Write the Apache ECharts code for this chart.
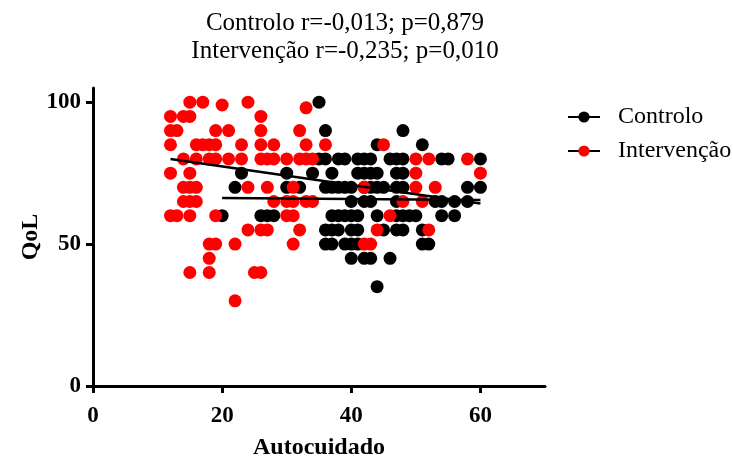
<!DOCTYPE html>
<html>
<head>
<meta charset="utf-8">
<script src="https://cdn.jsdelivr.net/npm/echarts@6/dist/echarts.min.js"></script>
<style>
    html, body { margin: 0; padding: 0; background: #fff; }
    #chart { width: 733px; height: 458px; }
</style>
</head>
<body>
<div id="chart"></div>
<script>
// QoL levels and the Autocuidado scores read at each level
var qolLevels = [100, 99, 98, 95, 90, 85, 80, 75, 70, 65, 60, 55, 50, 45, 40, 35, 30];

var controloAuto = [
    [35], [], [], [], [36, 48], [44, 51],
    [35, 36, 38, 39, 41, 42, 43, 46, 47, 48, 54, 55, 60],
    [23, 30, 34, 37, 41, 42, 43, 44, 47, 48],
    [22, 30, 32, 36, 37, 38, 39, 40, 42, 43, 44, 45, 47, 48, 58, 60],
    [40, 42, 43, 47, 53, 54, 56, 58],
    [20, 26, 27, 28, 37, 38, 39, 40, 41, 44, 47, 48, 49, 50, 54, 56],
    [36, 37, 38, 40, 41, 45, 47, 48, 51],
    [36, 37, 39, 40, 41, 51, 52],
    [40, 42, 43, 46], [], [44], []
];

var intervencaoAuto = [
    [15, 17, 24], [20], [33], [12, 14, 15, 26],
    [12, 13, 19, 21, 26, 32],
    [12, 16, 17, 18, 19, 23, 26, 28, 33, 36, 45],
    [14, 16, 18, 19, 21, 23, 26, 27, 28, 30, 32, 33, 34, 50, 52, 58],
    [12, 15, 50, 60],
    [14, 15, 16, 24, 27, 31, 42, 50, 53],
    [14, 15, 16, 28, 30, 31, 33, 34, 48, 51],
    [12, 13, 15, 19, 30, 31, 46],
    [24, 26, 27, 32, 44, 52],
    [18, 19, 22, 31, 42, 43],
    [18], [15, 18, 25, 26], [], [22]
];

// regression lines (end points)
var controloFitX = [20, 60];
var controloFitY = [66.2, 65.5];
var intervencaoFitX = [12, 60];
var intervencaoFitY = [80, 64.3];

var xTicks = [0, 20, 40, 60];
var yTicks = [0, 50, 100];

var $font = 'Liberation Serif';

function toPoints(autoByLevel) {
    var pts = [];
    autoByLevel.forEach(function (row, i) {
        row.forEach(function (x) { pts.push([x, qolLevels[i]]); });
    });
    return pts;
}
function zipXY(xs, ys) {
    return xs.map(function (x, i) { return [x, ys[i]]; });
}

var chartOption = {
    animation: false,
    textStyle: { fontFamily: $font, color: '#000' },
    title: {
        text: 'Controlo r=-0,013; p=0,879\nIntervenção r=-0,235; p=0,010',
        left: 345,
        top: 9,
        padding: 0,
        textAlign: 'center',
        textStyle: {
            fontFamily: $font,
            fontWeight: 'normal',
            fontSize: 25,
            lineHeight: 28,
            color: '#000'
        }
    },
    legend: {
        orient: 'vertical',
        left: 562,
        top: 100,
        itemWidth: 32,
        itemHeight: 14,
        itemGap: 10,
        data: ['Controlo', 'Intervenção'],
        textStyle: {
            fontFamily: $font,
            fontSize: 24,
            color: '#000',
            padding: [0, 0, 0, 13]
        }
    },
    grid: {
        left: 93,
        right: 188,
        top: 88,
        bottom: 72,
        outerBoundsMode: 'none',
        containLabel: false
    },
    xAxis: {
        type: 'value',
        min: 0,
        max: 70,
        interval: 10,
        name: 'Autocuidado',
        nameLocation: 'middle',
        nameGap: 50,
        nameMoveOverlap: false,
        nameTextStyle: { fontFamily: $font, fontWeight: 'bold', fontSize: 24, color: '#000' },
        axisLine: { onZero: false, lineStyle: { color: '#000', width: 3 } },
        axisTick: { show: true, length: 7, lineStyle: { color: '#000', width: 3 }, customValues: xTicks },
        axisLabel: { fontFamily: $font, fontWeight: 'bold', fontSize: 23, color: '#000', margin: 19, customValues: xTicks },
        splitLine: { show: false }
    },
    yAxis: {
        type: 'value',
        min: 0,
        max: 105,
        interval: 50,
        name: 'QoL',
        nameLocation: 'middle',
        nameGap: 50,
        nameMoveOverlap: false,
        nameTextStyle: { fontFamily: $font, fontWeight: 'bold', fontSize: 24, color: '#000' },
        axisLine: { show: true, onZero: false, lineStyle: { color: '#000', width: 3 } },
        axisTick: { show: true, length: 7, lineStyle: { color: '#000', width: 3 }, customValues: yTicks },
        axisLabel: { fontFamily: $font, fontWeight: 'bold', fontSize: 23, color: '#000', margin: 12, customValues: yTicks },
        splitLine: { show: false }
    },
    series: [
        {
            name: 'Controlo',
            type: 'line',
            z: 4,
            symbol: 'circle',
            showSymbol: false,
            itemStyle: { color: '#000' },
            lineStyle: { color: '#000', width: 2.5 },
            data: zipXY(controloFitX, controloFitY)
        },
        {
            name: 'Intervenção',
            type: 'line',
            z: 4,
            symbol: 'circle',
            showSymbol: false,
            itemStyle: { color: '#ff0000' },
            lineStyle: { color: '#000', width: 2.5 },
            data: zipXY(intervencaoFitX, intervencaoFitY)
        },
        {
            name: 'Controlo',
            type: 'scatter',
            z: 2,
            symbolSize: 13,
            itemStyle: { color: '#000', opacity: 1 },
            data: toPoints(controloAuto)
        },
        {
            name: 'Intervenção',
            type: 'scatter',
            z: 3,
            symbolSize: 13,
            itemStyle: { color: '#ff0000', opacity: 1 },
            data: toPoints(intervencaoAuto)
        }
    ]
};

var chart = echarts.init(document.getElementById('chart'));
chart.setOption(chartOption);
</script>
</body>
</html>
